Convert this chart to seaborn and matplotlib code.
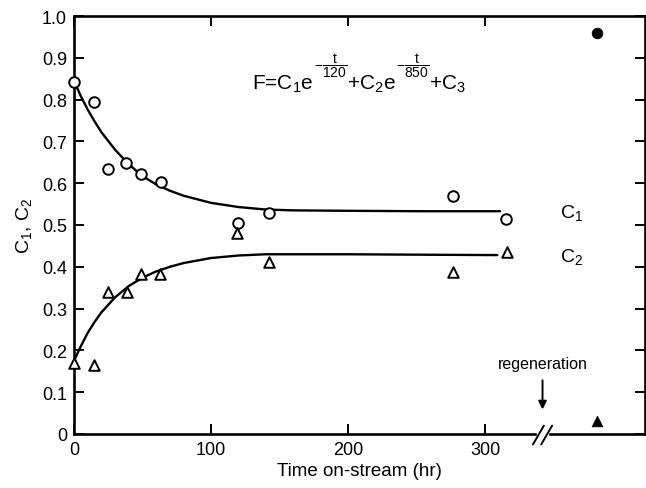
import matplotlib
matplotlib.use("Agg")
import matplotlib.pyplot as plt
import seaborn as sns
import pandas as pd

# ---- data ----
c1_t = [0, 14.6, 24.6, 38, 48.7, 63.5, 119.7, 142.6, 277, 315]
c1_v = [0.843, 0.794, 0.634, 0.648, 0.622, 0.604, 0.505, 0.529, 0.569, 0.514]
c2_t = [0, 14.8, 24.6, 38.4, 49, 63, 119, 142.6, 277, 316]
c2_v = [0.170, 0.165, 0.339, 0.340, 0.383, 0.383, 0.480, 0.411, 0.387, 0.435]

fit1_t = [0, 5, 10, 15, 20, 30, 40, 50, 60, 70, 80, 100, 120, 140, 160, 200, 250, 311]
fit1_v = [0.845, 0.808, 0.776, 0.748, 0.722, 0.680, 0.645, 0.617, 0.597, 0.582, 0.570, 0.553, 0.543, 0.537, 0.535, 0.534, 0.533, 0.533]
fit2_t = [0, 5, 10, 15, 20, 30, 40, 50, 60, 70, 80, 100, 120, 140, 200, 250, 309]
fit2_v = [0.175, 0.210, 0.242, 0.268, 0.291, 0.327, 0.354, 0.374, 0.389, 0.400, 0.409, 0.421, 0.427, 0.430, 0.430, 0.429, 0.428]

regen_t = [382, 382]
regen_v = [0.959, 0.03]

xticks = [0, 100, 200, 300]
yticks = [0, 0.1, 0.2, 0.3, 0.4, 0.5, 0.6, 0.7, 0.8, 0.9, 1.0]
yticklabels = ["0", "0.1", "0.2", "0.3", "0.4", "0.5", "0.6", "0.7", "0.8", "0.9", "1.0"]

sns.set_style("ticks", {"axes.edgecolor": "black", "xtick.color": "black",
                        "ytick.color": "black", "text.color": "black",
                        "axes.labelcolor": "black"})
plt.rcParams['font.family'] = ['Liberation Sans', 'DejaVu Sans']
plt.rcParams['mathtext.fontset'] = 'custom'
plt.rcParams['mathtext.rm'] = 'Liberation Sans'
plt.rcParams['mathtext.it'] = 'Liberation Sans'
plt.rcParams['mathtext.bf'] = 'Liberation Sans:bold'

fig = plt.figure(figsize=(6.46, 4.89), dpi=100)
ax = fig.add_axes([74/646, 1-435/489, (645-74)/646, (435-17)/489])

df1 = pd.DataFrame({"t": fit1_t, "v": fit1_v})
df2 = pd.DataFrame({"t": fit2_t, "v": fit2_v})
sns.lineplot(data=df1, x="t", y="v", ax=ax, color="black", lw=1.7, sort=True)
sns.lineplot(data=df2, x="t", y="v", ax=ax, color="black", lw=1.7, sort=True)

kw_open = dict(s=58, facecolor="white", edgecolor="black", linewidth=1.4,
               zorder=5, clip_on=False)
sns.scatterplot(x=c1_t, y=c1_v, ax=ax, marker="o", **kw_open)
sns.scatterplot(x=c2_t, y=c2_v, ax=ax, marker="^", **kw_open)
sns.scatterplot(x=regen_t[:1], y=regen_v[:1], ax=ax, marker="o", s=58,
                color="black", edgecolor="black", zorder=5)
sns.scatterplot(x=regen_t[1:], y=regen_v[1:], ax=ax, marker="^", s=58,
                color="black", edgecolor="black", zorder=5)

ax.set_xlim(0, 416.8)
ax.set_ylim(0, 1.0)
ax.set_xticks(xticks)
ax.set_xticklabels([str(x) for x in xticks])
ax.set_yticks(yticks)
ax.set_yticklabels(yticklabels)
ax.tick_params(direction="in", length=7, width=1.4, labelsize=13,
               top=True, right=True, pad=5, colors="black")
ax.tick_params(axis="y", right=True, labelright=False)
ax.tick_params(axis="x", top=True, labeltop=False)
for s in ax.spines.values():
    s.set_linewidth(1.9)
    s.set_visible(True)
    s.set_color("black")

ax.set_xlabel("Time on-stream (hr)", fontsize=13.5, labelpad=3)
ax.set_ylabel(r"C$_1$, C$_2$", fontsize=14, labelpad=6)

# equation built from chained text pieces
EQ = 15
FR = 10
p1 = ax.text(130, 0.826, r"F=C$_1$e", fontsize=EQ, ha="left", va="baseline")
f1 = ax.annotate(r"$-\dfrac{t}{120}$", xy=(1, 1), xycoords=p1, xytext=(0, -4.5),
                 textcoords="offset points", fontsize=FR, ha="left", va="bottom")
p2 = ax.annotate(r"+C$_2$e", xy=(1, 0), xycoords=(f1, p1), fontsize=EQ,
                 ha="left", va="bottom")
f2 = ax.annotate(r"$-\dfrac{t}{850}$", xy=(1, 1), xycoords=p2, xytext=(0, -4.5),
                 textcoords="offset points", fontsize=FR, ha="left", va="bottom")
p3 = ax.annotate(r"+C$_3$", xy=(1, 0), xycoords=(f2, p1), fontsize=EQ,
                 ha="left", va="bottom")

ax.text(355, 0.53, r"C$_1$", fontsize=14, ha="left", va="center")
ax.text(355, 0.425, r"C$_2$", fontsize=14, ha="left", va="center")

ax.text(342, 0.168, "regeneration", fontsize=11.5, ha="center", va="center")
ax.annotate("", xy=(342, 0.052), xytext=(342, 0.135),
            arrowprops=dict(arrowstyle="-|>", color="black", lw=1.4,
                            mutation_scale=12))

# axis break marks
ax.fill_between([338, 346], [-0.006, -0.006], [0.006, 0.006], color="white",
                zorder=5, clip_on=False)
for dx in (-3, 3):
    ax.plot([342 + dx - 4, 342 + dx + 4], [-0.025, 0.02], color="black", lw=1.4,
            clip_on=False, zorder=6)

fig.savefig("out.png", dpi=100)
